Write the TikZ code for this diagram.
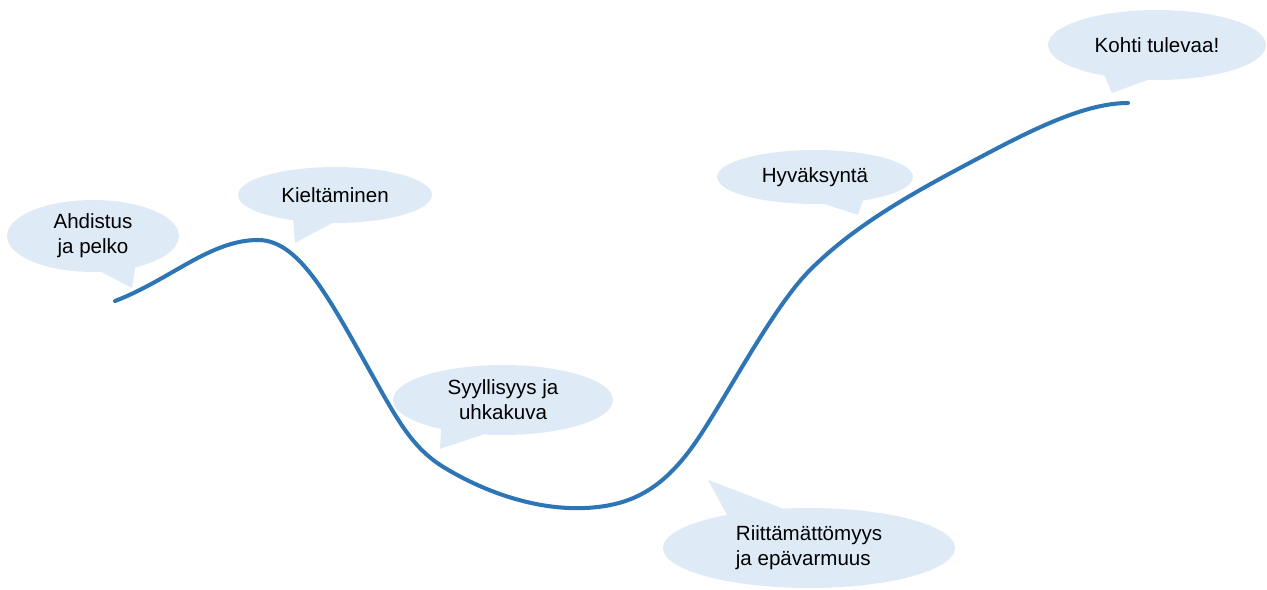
\documentclass[tikz,border=0pt]{standalone}
\usepackage{fontspec}
\setmainfont{Liberation Sans}
\usetikzlibrary{shapes.callouts}
\definecolor{puhe}{HTML}{DEEBF7}
\definecolor{kayra}{HTML}{2E75B6}
\tikzset{%
  kupla/.style={ellipse callout,fill=puhe,draw=none,inner sep=0pt,
    callout pointer arc=24,align=center,
    font=\fontsize{11.7}{14.2}\selectfont},
  kayrav/.style={draw=kayra,line width=2.3pt,line cap=round}}

\begin{document}
\begin{tikzpicture}[x=0.02cm,y=-0.02cm]
    \useasboundingbox (0,0) rectangle (1267,590);
    \node[kupla,minimum width=3.44cm,minimum height=1.44cm,
      callout absolute pointer={(132,288)}] (ahdistus) at (93,236)
      {Ahdistus\\ja pelko};
    \node[kupla,minimum width=3.88cm,minimum height=1.12cm,
      callout absolute pointer={(295,243)}] (kielto) at (335,195)
      {Kieltäminen};
    \node[kupla,minimum width=4.4cm,minimum height=1.4cm,
      callout absolute pointer={(440,449)}] (syyllisyys) at (503,400)
      {Syyllisyys ja\\uhkakuva};
    \node[kupla,minimum width=5.84cm,minimum height=1.6cm,align=left,
      callout absolute pointer={(708,480)}] (riitto) at (809,548)
      {Riittämättömyys\\ja epävarmuus};
    \node[kupla,minimum width=3.92cm,minimum height=1.08cm,
      callout absolute pointer={(858,215)}] (hyvaksynta) at (815,177)
      {Hyväksyntä};
    \node[kupla,minimum width=4.36cm,minimum height=1.4cm,
      callout absolute pointer={(1112,93)}] (tuleva) at (1157,45)
      {Kohti tulevaa!};
    % tunnekayra
    \draw[kayrav] (115,301) .. controls (170,280) and (210,240) .. (258,240)
      .. controls (300,240) and (330,300) .. (375,380)
      .. controls (400,425) and (415,450) .. (445,468)
      .. controls (490,495) and (540,510) .. (585,508)
      .. controls (630,506) and (660,490) .. (690,450)
      .. controls (720,410) and (770,310) .. (810,270)
      .. controls (850,230) and (900,200) .. (960,168)
      .. controls (1020,136) and (1080,103) .. (1128,103);
\end{tikzpicture}
\end{document}
